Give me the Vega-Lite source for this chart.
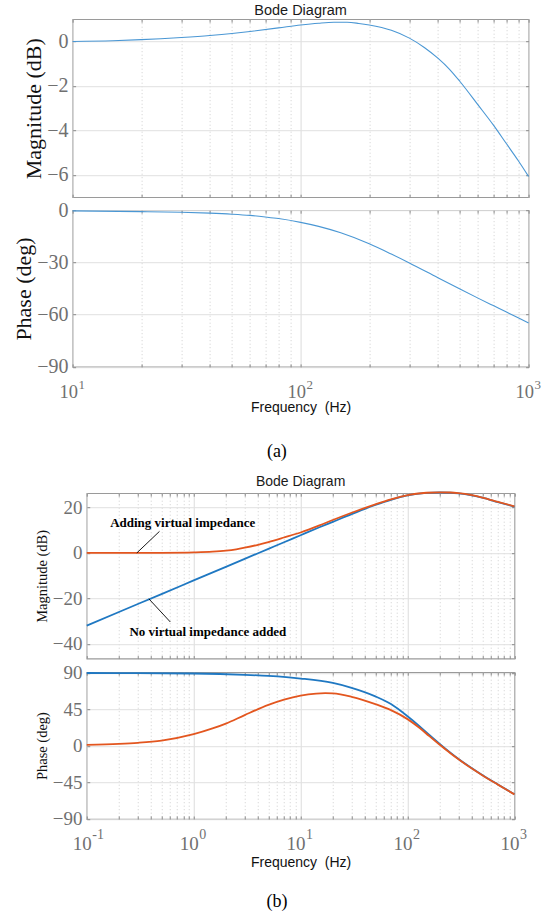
{
  "$schema": "https://vega.github.io/schema/vega-lite/v6.json",
  "padding": {"left": 11.6, "top": 2.2, "right": 5, "bottom": 0},
  "bounds": "flush",
  "center": true,
  "spacing": 13,
  "config": {
    "view": {"stroke": "#9a9a9a", "strokeWidth": 1.2},
    "axis": {"labelOverlap": false}
  },
  "datasets": {
    "aMag": [
      {"f": 10, "db": 0.0}, {"f": 15, "db": 0.03}, {"f": 20, "db": 0.08}, {"f": 30, "db": 0.18},
      {"f": 40, "db": 0.27}, {"f": 50, "db": 0.36}, {"f": 60, "db": 0.45}, {"f": 80, "db": 0.61},
      {"f": 100, "db": 0.74}, {"f": 120, "db": 0.82}, {"f": 140, "db": 0.86}, {"f": 160, "db": 0.86},
      {"f": 180, "db": 0.81}, {"f": 200, "db": 0.74}, {"f": 250, "db": 0.5}, {"f": 300, "db": 0.15},
      {"f": 350, "db": -0.28}, {"f": 400, "db": -0.75}, {"f": 450, "db": -1.25}, {"f": 500, "db": -1.8},
      {"f": 600, "db": -2.85}, {"f": 700, "db": -3.75}, {"f": 800, "db": -4.6}, {"f": 900, "db": -5.35},
      {"f": 1000, "db": -6.07}
    ],
    "aPh": [
      {"f": 10, "deg": -0.4}, {"f": 20, "deg": -0.8}, {"f": 30, "deg": -1.2}, {"f": 40, "deg": -1.7},
      {"f": 50, "deg": -2.3}, {"f": 60, "deg": -3.0}, {"f": 70, "deg": -3.9}, {"f": 80, "deg": -4.8},
      {"f": 100, "deg": -7.0}, {"f": 120, "deg": -9.3}, {"f": 150, "deg": -13.0}, {"f": 200, "deg": -19.3},
      {"f": 250, "deg": -25.2}, {"f": 300, "deg": -30.3}, {"f": 400, "deg": -38.8}, {"f": 500, "deg": -45.3},
      {"f": 600, "deg": -50.5}, {"f": 700, "deg": -54.8}, {"f": 800, "deg": -58.5}, {"f": 900, "deg": -61.8},
      {"f": 1000, "deg": -64.8}
    ],
    "bMag": [
      {"case": "without", "f": 0.1, "db": -32}, {"case": "without", "f": 0.2, "db": -26}, {"case": "without", "f": 0.5, "db": -18.1},
      {"case": "without", "f": 1, "db": -12.1}, {"case": "without", "f": 2, "db": -6.1}, {"case": "without", "f": 3, "db": -2.6},
      {"case": "without", "f": 5, "db": 1.8}, {"case": "without", "f": 7, "db": 4.7}, {"case": "without", "f": 10, "db": 7.8},
      {"case": "without", "f": 15, "db": 11.3}, {"case": "without", "f": 20, "db": 13.7}, {"case": "without", "f": 30, "db": 17.1},
      {"case": "without", "f": 50, "db": 21.1}, {"case": "without", "f": 70, "db": 23.4}, {"case": "without", "f": 100, "db": 25.3},
      {"case": "without", "f": 150, "db": 26.4}, {"case": "without", "f": 200, "db": 26.6}, {"case": "without", "f": 250, "db": 26.5},
      {"case": "without", "f": 300, "db": 26.2}, {"case": "without", "f": 400, "db": 25.3}, {"case": "without", "f": 500, "db": 24.3},
      {"case": "without", "f": 700, "db": 22.4}, {"case": "without", "f": 1000, "db": 20.4},
      {"case": "with", "f": 0.1, "db": 0}, {"case": "with", "f": 0.2, "db": 0.01}, {"case": "with", "f": 0.5, "db": 0.06},
      {"case": "with", "f": 1, "db": 0.25}, {"case": "with", "f": 1.5, "db": 0.55}, {"case": "with", "f": 2, "db": 1.0},
      {"case": "with", "f": 2.5, "db": 1.6}, {"case": "with", "f": 3, "db": 2.3}, {"case": "with", "f": 4, "db": 3.6},
      {"case": "with", "f": 5, "db": 4.8}, {"case": "with", "f": 7, "db": 6.8},
      {"case": "with", "f": 10, "db": 9.0}, {"case": "with", "f": 15, "db": 12.1}, {"case": "with", "f": 20, "db": 14.5},
      {"case": "with", "f": 30, "db": 17.7}, {"case": "with", "f": 50, "db": 21.4}, {"case": "with", "f": 70, "db": 23.6},
      {"case": "with", "f": 100, "db": 25.5}, {"case": "with", "f": 150, "db": 26.5}, {"case": "with", "f": 200, "db": 26.7},
      {"case": "with", "f": 250, "db": 26.6}, {"case": "with", "f": 300, "db": 26.3}, {"case": "with", "f": 400, "db": 25.4},
      {"case": "with", "f": 500, "db": 24.4}, {"case": "with", "f": 700, "db": 22.5}, {"case": "with", "f": 1000, "db": 20.5}
    ],
    "bPh": [
      {"case": "without", "f": 0.1, "deg": 89.8}, {"case": "without", "f": 0.3, "deg": 89.6}, {"case": "without", "f": 1, "deg": 89.2},
      {"case": "without", "f": 3, "deg": 87.6}, {"case": "without", "f": 5, "deg": 86.2}, {"case": "without", "f": 10, "deg": 83},
      {"case": "without", "f": 20, "deg": 77.5}, {"case": "without", "f": 30, "deg": 71.5}, {"case": "without", "f": 50, "deg": 61},
      {"case": "without", "f": 70, "deg": 51.5}, {"case": "without", "f": 100, "deg": 36.5}, {"case": "without", "f": 130, "deg": 24},
      {"case": "without", "f": 160, "deg": 13.5}, {"case": "without", "f": 200, "deg": 2.5}, {"case": "without", "f": 250, "deg": -8},
      {"case": "without", "f": 300, "deg": -16}, {"case": "without", "f": 400, "deg": -27.5}, {"case": "without", "f": 500, "deg": -35.8},
      {"case": "without", "f": 700, "deg": -47.5}, {"case": "without", "f": 1000, "deg": -59.6},
      {"case": "with", "f": 0.1, "deg": 1.2}, {"case": "with", "f": 0.2, "deg": 2.5}, {"case": "with", "f": 0.3, "deg": 3.8},
      {"case": "with", "f": 0.5, "deg": 6.5}, {"case": "with", "f": 1, "deg": 14.4}, {"case": "with", "f": 1.5, "deg": 21.5},
      {"case": "with", "f": 2, "deg": 27.5}, {"case": "with", "f": 3, "deg": 38}, {"case": "with", "f": 5, "deg": 50.5},
      {"case": "with", "f": 7, "deg": 57}, {"case": "with", "f": 10, "deg": 62}, {"case": "with", "f": 14, "deg": 64.5},
      {"case": "with", "f": 17, "deg": 65}, {"case": "with", "f": 20, "deg": 64.7}, {"case": "with", "f": 30, "deg": 60.5},
      {"case": "with", "f": 50, "deg": 51.5}, {"case": "with", "f": 70, "deg": 44}, {"case": "with", "f": 100, "deg": 33},
      {"case": "with", "f": 130, "deg": 22}, {"case": "with", "f": 160, "deg": 12}, {"case": "with", "f": 200, "deg": 1.5},
      {"case": "with", "f": 250, "deg": -8.7}, {"case": "with", "f": 300, "deg": -16.5}, {"case": "with", "f": 400, "deg": -27.9},
      {"case": "with", "f": 500, "deg": -36.1}, {"case": "with", "f": 700, "deg": -47.7}, {"case": "with", "f": 1000, "deg": -59.7}
    ],
    "notes": [
      {"note": "Adding virtual impedance", "f": 0.789, "db": 13.0},
      {"note": "No virtual impedance added", "f": 1.358, "db": -34.8}
    ],
    "pointers": [
      {"f1": 0.479, "d1": 9.5, "f2": 0.294, "d2": 0},
      {"f1": 0.381, "d1": -20.2, "f2": 0.605, "d2": -30.4}
    ]
  },
  "vconcat": [
    {
      "width": 456, "height": 178,
      "title": {"text": "Bode Diagram", "font": "Liberation Sans", "fontSize": 14.5, "fontWeight": "normal", "color": "#1a1a1a", "offset": 0},
      "data": {"name": "aMag"},
      "layer": [
        {
          "mark": {"type": "line", "color": "#4a97d4", "strokeWidth": 1.1, "interpolate": "monotone"},
          "encoding": {
            "x": {"field": "f", "type": "quantitative", "scale": {"type": "log", "domain": [10, 1000]},
              "axis": {"orient": "bottom", "values": [10,20,30,40,50,60,70,80,90,100,200,300,400,500,600,700,800,900,1000],
                "grid": true,
                "gridColor": {"condition": {"test": "indexof([10,100,1000], datum.value) >= 0", "value": "#dcdcdc"}, "value": "#cfcfcf"},
                "gridDash": {"condition": {"test": "indexof([10,100,1000], datum.value) >= 0", "value": []}, "value": [1, 2.5]},
                "domain": false, "tickSize": -3, "tickColor": "#8a8a8a", "labels": false, "title": null}},
            "y": {"field": "db", "type": "quantitative", "scale": {"domain": [-7, 1], "nice": false, "zero": false},
              "axis": {"orient": "left", "values": [-6, -4, -2, 0], "grid": true, "gridColor": "#e0e0e0", "domain": false,
                "tickSize": -3, "tickColor": "#8a8a8a", "labelFont": "Liberation Serif", "labelFontSize": 20, "labelColor": "#707070",
                "labelPadding": 7.5, "title": "Magnitude (dB)", "titleFont": "Liberation Serif", "titleFontSize": 22,
                "titleFontWeight": "normal", "titleColor": "#111111", "titlePadding": 1.5}}
          }
        },
        {
          "mark": {"type": "line", "opacity": 0},
          "encoding": {
            "x": {"field": "f", "type": "quantitative",
              "axis": {"orient": "top", "values": [10,20,30,40,50,60,70,80,90,100,200,300,400,500,600,700,800,900,1000],
                "grid": false, "domain": false, "tickSize": -3, "tickColor": "#8a8a8a", "labels": false, "title": null}},
            "y": {"field": "db", "type": "quantitative",
              "axis": {"orient": "right", "values": [-6, -4, -2, 0], "grid": false, "domain": false, "tickSize": -3,
                "tickColor": "#8a8a8a", "labels": false, "title": null}}
          }
        }
      ],
      "resolve": {"axis": {"x": "independent", "y": "independent"}}
    },
    {
      "width": 456, "height": 156.7,
      "data": {"name": "aPh"},
      "layer": [
        {
          "mark": {"type": "line", "color": "#4a97d4", "strokeWidth": 1.1, "interpolate": "monotone"},
          "encoding": {
            "x": {"field": "f", "type": "quantitative", "scale": {"type": "log", "domain": [10, 1000]},
              "axis": {"orient": "bottom", "values": [10,20,30,40,50,60,70,80,90,100,200,300,400,500,600,700,800,900,1000],
                "grid": true,
                "gridColor": {"condition": {"test": "indexof([10,100,1000], datum.value) >= 0", "value": "#dcdcdc"}, "value": "#cfcfcf"},
                "gridDash": {"condition": {"test": "indexof([10,100,1000], datum.value) >= 0", "value": []}, "value": [1, 2.5]},
                "domain": false, "tickSize": -3, "tickColor": "#8a8a8a",
                "labelExpr": "indexof([10,100,1000], datum.value) >= 0 ? '10' : ''",
                "labelAlign": "right", "labelOffset": 5, "labelFlush": false, "labelFont": "Liberation Serif",
                "labelFontSize": 18.5, "labelColor": "#707070", "labelPadding": 18.4,
                "title": "Frequency\u00a0 (Hz)", "titleFont": "Liberation Sans", "titleFontSize": 14, "titleFontWeight": "normal",
                "titleColor": "#111111", "titlePadding": -0.5}},
            "y": {"field": "deg", "type": "quantitative", "scale": {"domain": [-90, 0], "nice": false, "zero": false},
              "axis": {"orient": "left", "values": [-90, -60, -30, 0], "grid": true, "gridColor": "#e0e0e0", "domain": false,
                "tickSize": -3, "tickColor": "#8a8a8a", "labelFont": "Liberation Serif", "labelFontSize": 20, "labelColor": "#707070",
                "labelPadding": 7.5, "title": "Phase (deg)", "titleFont": "Liberation Serif", "titleFontSize": 22,
                "titleFontWeight": "normal", "titleColor": "#111111", "titlePadding": 1.5}}
          }
        },
        {
          "mark": {"type": "line", "opacity": 0},
          "encoding": {
            "x": {"field": "f", "type": "quantitative",
              "axis": {"orient": "top", "values": [10,20,30,40,50,60,70,80,90,100,200,300,400,500,600,700,800,900,1000],
                "grid": false, "domain": false, "tickSize": -3, "tickColor": "#8a8a8a", "labels": false, "title": null}},
            "y": {"field": "deg", "type": "quantitative",
              "axis": {"orient": "right", "values": [-90, -60, -30, 0], "grid": false, "domain": false, "tickSize": -3,
                "tickColor": "#8a8a8a", "labels": false, "title": null}}
          }
        },
        {
          "mark": {"type": "line", "opacity": 0},
          "encoding": {
            "x": {"field": "f", "type": "quantitative",
              "axis": {"orient": "bottom", "values": [10, 100, 1000], "grid": false, "domain": false, "ticks": false,
                "labelExpr": "datum.value == 10 ? '1' : datum.value == 100 ? '2' : '3'",
                "labelAlign": "left", "labelOffset": 5.5, "labelFlush": false, "labelFont": "Liberation Serif",
                "labelFontSize": 13, "labelColor": "#707070", "labelPadding": 11.3, "title": null}},
            "y": {"field": "deg", "type": "quantitative", "axis": null}
          }
        }
      ],
      "resolve": {"axis": {"x": "independent", "y": "independent"}}
    },
    {
      "width": 456, "height": 99.6,
      "view": {"stroke": null},
      "data": {"values": [{"lab": "(a)", "px": 0.448, "py": 0.284}]},
      "mark": {"type": "text", "font": "Liberation Serif", "fontSize": 18, "color": "#000000", "align": "center", "baseline": "middle"},
      "encoding": {
        "x": {"field": "px", "type": "quantitative", "scale": {"domain": [0, 1]}, "axis": null},
        "y": {"field": "py", "type": "quantitative", "scale": {"domain": [0, 1]}, "axis": null},
        "text": {"field": "lab"}
      }
    },
    {
      "width": 427.7, "height": 165.4,
      "title": {"text": "Bode Diagram", "font": "Liberation Sans", "fontSize": 14, "fontWeight": "normal", "color": "#1a1a1a", "offset": 0},
      "data": {"name": "bMag"},
      "layer": [
        {
          "transform": [{"filter": "datum.case == 'without'"}],
          "mark": {"type": "line", "color": "#1f78c2", "strokeWidth": 1.8, "interpolate": "monotone"},
          "encoding": {
            "x": {"field": "f", "type": "quantitative", "scale": {"type": "log", "domain": [0.1, 1000]},
              "axis": {"orient": "bottom", "values": [0.1,0.2,0.3,0.4,0.5,0.6,0.7,0.8,0.9,1,2,3,4,5,6,7,8,9,10,20,30,40,50,60,70,80,90,100,200,300,400,500,600,700,800,900,1000],
                "grid": true,
                "gridColor": {"condition": {"test": "indexof([0.1,1,10,100,1000], datum.value) >= 0", "value": "#dcdcdc"}, "value": "#cfcfcf"},
                "gridDash": {"condition": {"test": "indexof([0.1,1,10,100,1000], datum.value) >= 0", "value": []}, "value": [1, 2.5]},
                "domain": false, "tickSize": -3, "tickColor": "#8a8a8a", "labels": false, "title": null}},
            "y": {"field": "db", "type": "quantitative", "scale": {"domain": [-46.5, 26.3], "nice": false, "zero": false},
              "axis": {"orient": "left", "values": [-40, -20, 0, 20], "grid": true, "gridColor": "#e0e0e0", "domain": false,
                "tickSize": -3, "tickColor": "#8a8a8a", "labelFont": "Liberation Serif", "labelFontSize": 19, "labelColor": "#707070",
                "labelPadding": 7.8, "title": "Magnitude (dB)", "titleFont": "Liberation Serif", "titleFontSize": 14.5,
                "titleFontWeight": "normal", "titleColor": "#111111", "titlePadding": 3}}
          }
        },
        {
          "transform": [{"filter": "datum.case == 'with'"}],
          "mark": {"type": "line", "color": "#e3561f", "strokeWidth": 1.8, "interpolate": "monotone"},
          "encoding": {
            "x": {"field": "f", "type": "quantitative", "axis": null},
            "y": {"field": "db", "type": "quantitative", "axis": null}
          }
        },
        {
          "data": {"name": "pointers"},
          "mark": {"type": "rule", "color": "#000000", "strokeWidth": 0.9},
          "encoding": {
            "x": {"field": "f1", "type": "quantitative", "axis": null},
            "y": {"field": "d1", "type": "quantitative", "axis": null},
            "x2": {"field": "f2"},
            "y2": {"field": "d2"}
          }
        },
        {
          "data": {"name": "notes"},
          "mark": {"type": "text", "font": "Liberation Serif", "fontSize": 13, "fontWeight": "bold", "color": "#000000", "align": "center", "baseline": "middle"},
          "encoding": {
            "x": {"field": "f", "type": "quantitative", "axis": null},
            "y": {"field": "db", "type": "quantitative", "axis": null},
            "text": {"field": "note"}
          }
        },
        {
          "mark": {"type": "line", "opacity": 0},
          "encoding": {
            "x": {"field": "f", "type": "quantitative",
              "axis": {"orient": "top", "values": [0.1,0.2,0.3,0.4,0.5,0.6,0.7,0.8,0.9,1,2,3,4,5,6,7,8,9,10,20,30,40,50,60,70,80,90,100,200,300,400,500,600,700,800,900,1000],
                "grid": false, "domain": false, "tickSize": -3, "tickColor": "#8a8a8a", "labels": false, "title": null}},
            "y": {"field": "db", "type": "quantitative",
              "axis": {"orient": "right", "values": [-40, -20, 0, 20], "grid": false, "domain": false, "tickSize": -3,
                "tickColor": "#8a8a8a", "labels": false, "title": null}}
          }
        }
      ],
      "resolve": {"axis": {"x": "independent", "y": "independent"}}
    },
    {
      "width": 427.7, "height": 146.8,
      "data": {"name": "bPh"},
      "layer": [
        {
          "transform": [{"filter": "datum.case == 'without'"}],
          "mark": {"type": "line", "color": "#1f78c2", "strokeWidth": 1.8, "interpolate": "monotone"},
          "encoding": {
            "x": {"field": "f", "type": "quantitative", "scale": {"type": "log", "domain": [0.1, 1000]},
              "axis": {"orient": "bottom", "values": [0.1,0.2,0.3,0.4,0.5,0.6,0.7,0.8,0.9,1,2,3,4,5,6,7,8,9,10,20,30,40,50,60,70,80,90,100,200,300,400,500,600,700,800,900,1000],
                "grid": true,
                "gridColor": {"condition": {"test": "indexof([0.1,1,10,100,1000], datum.value) >= 0", "value": "#dcdcdc"}, "value": "#cfcfcf"},
                "gridDash": {"condition": {"test": "indexof([0.1,1,10,100,1000], datum.value) >= 0", "value": []}, "value": [1, 2.5]},
                "domain": false, "tickSize": -3, "tickColor": "#8a8a8a",
                "labelExpr": "indexof([0.1,1,10,100,1000], datum.value) >= 0 ? '10' : ''",
                "labelAlign": "right", "labelOffset": 4.5, "labelFlush": false, "labelFont": "Liberation Serif",
                "labelFontSize": 19, "labelColor": "#707070", "labelPadding": 18.3,
                "title": "Frequency\u00a0 (Hz)", "titleFont": "Liberation Sans", "titleFontSize": 14, "titleFontWeight": "normal",
                "titleColor": "#111111", "titlePadding": 2.5}},
            "y": {"field": "deg", "type": "quantitative", "scale": {"domain": [-90, 90.8], "nice": false, "zero": false},
              "axis": {"orient": "left", "values": [-90, -45, 0, 45, 90], "grid": true, "gridColor": "#e0e0e0", "domain": false,
                "tickSize": -3, "tickColor": "#8a8a8a", "labelFont": "Liberation Serif", "labelFontSize": 19, "labelColor": "#707070",
                "labelPadding": 7.8, "title": "Phase (deg)", "titleFont": "Liberation Serif", "titleFontSize": 14.5,
                "titleFontWeight": "normal", "titleColor": "#111111", "titlePadding": 3}}
          }
        },
        {
          "transform": [{"filter": "datum.case == 'with'"}],
          "mark": {"type": "line", "color": "#e3561f", "strokeWidth": 1.8, "interpolate": "monotone"},
          "encoding": {
            "x": {"field": "f", "type": "quantitative", "axis": null},
            "y": {"field": "deg", "type": "quantitative", "axis": null}
          }
        },
        {
          "mark": {"type": "line", "opacity": 0},
          "encoding": {
            "x": {"field": "f", "type": "quantitative",
              "axis": {"orient": "top", "values": [0.1,0.2,0.3,0.4,0.5,0.6,0.7,0.8,0.9,1,2,3,4,5,6,7,8,9,10,20,30,40,50,60,70,80,90,100,200,300,400,500,600,700,800,900,1000],
                "grid": false, "domain": false, "tickSize": -3, "tickColor": "#8a8a8a", "labels": false, "title": null}},
            "y": {"field": "deg", "type": "quantitative",
              "axis": {"orient": "right", "values": [-90, -45, 0, 45, 90], "grid": false, "domain": false, "tickSize": -3,
                "tickColor": "#8a8a8a", "labels": false, "title": null}}
          }
        },
        {
          "mark": {"type": "line", "opacity": 0},
          "encoding": {
            "x": {"field": "f", "type": "quantitative",
              "axis": {"orient": "bottom", "values": [0.1, 1, 10, 100, 1000], "grid": false, "domain": false, "ticks": false,
                "labelExpr": "datum.value == 0.1 ? '-1' : datum.value == 1 ? '0' : datum.value == 10 ? '1' : datum.value == 100 ? '2' : '3'",
                "labelAlign": "left", "labelOffset": 5, "labelFlush": false, "labelFont": "Liberation Serif",
                "labelFontSize": 14, "labelColor": "#707070", "labelPadding": 9, "title": null}},
            "y": {"field": "deg", "type": "quantitative", "axis": null}
          }
        }
      ],
      "resolve": {"axis": {"x": "independent", "y": "independent"}}
    },
    {
      "width": 456, "height": 80,
      "view": {"stroke": null},
      "data": {"values": [{"lab": "(b)", "px": 0.448, "py": 0.13}]},
      "mark": {"type": "text", "font": "Liberation Serif", "fontSize": 18, "color": "#000000", "align": "center", "baseline": "middle"},
      "encoding": {
        "x": {"field": "px", "type": "quantitative", "scale": {"domain": [0, 1]}, "axis": null},
        "y": {"field": "py", "type": "quantitative", "scale": {"domain": [0, 1]}, "axis": null},
        "text": {"field": "lab"}
      }
    }
  ]
}
